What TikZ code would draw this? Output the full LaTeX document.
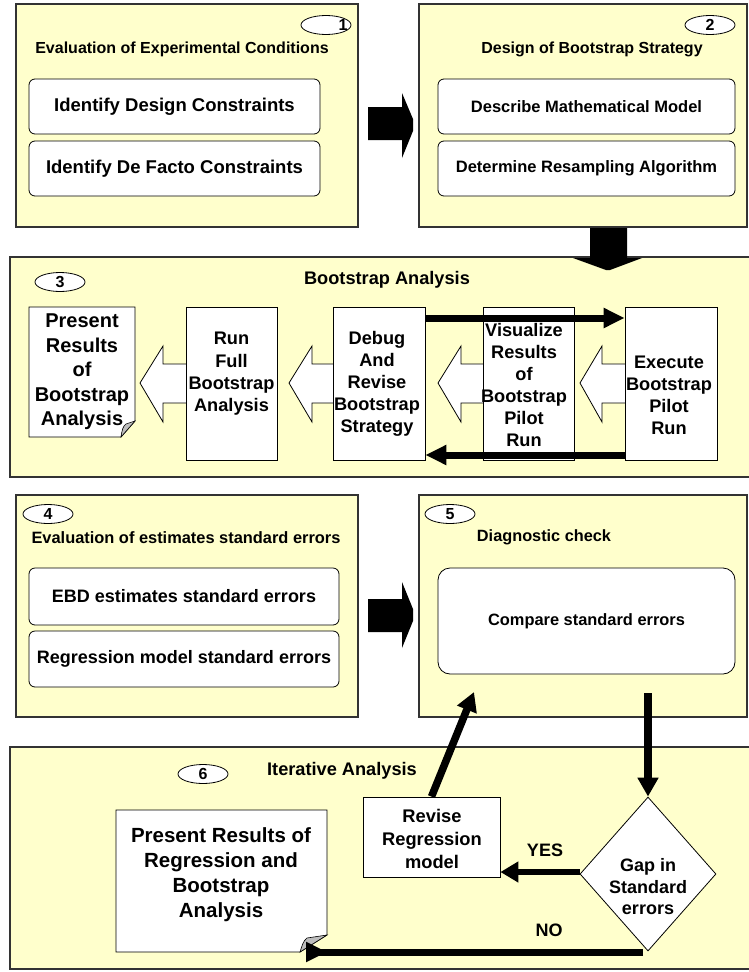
\documentclass[tikz,border=0pt]{standalone}
\usepackage{fontspec}
\setmainfont{Liberation Sans}
\usetikzlibrary{arrows.meta,shapes.geometric}
\definecolor{panelfill}{HTML}{FFFFCC}
\definecolor{foldgray}{HTML}{BDBDBD}
\newcommand\ft[2]{\fontsize{#1}{#2}\selectfont\bfseries}
\begin{document}
\begin{tikzpicture}[x=1pt,y=-1pt,
  panel/.style={draw=black!80,line width=1.2pt,fill=panelfill},
  rbox/.style={draw=black,line width=0.8pt,fill=white,rounded corners=6pt,inner sep=0pt,align=center},
  sbox/.style={draw=black,line width=0.8pt,fill=white,inner sep=0pt},
  num/.style={ellipse,draw=black,line width=0.8pt,fill=white,minimum width=50pt,minimum height=19pt,inner sep=0pt,font=\ft{16}{19}},
  lbl/.style={inner sep=0pt,align=center},
  wblock/.style={draw=black,line width=0.8pt,fill=white,line join=miter},
  bblock/.style={fill=black},
  blk/.style={line width=7pt,-{Triangle[length=21pt,width=19pt]}},
  thn/.style={line width=6pt,-{Triangle[length=18pt,width=20pt]}},
  doc/.style={draw=black,line width=0.8pt,fill=white,line join=miter},
  flap/.style={draw=black,line width=0.6pt,fill=foldgray}
]
\useasboundingbox (0,0) rectangle (749,972);
\fill[white] (0,0) rectangle (749,972);

% ---------- panels ----------
\draw[panel] (16,4) rectangle (358,227);
\draw[panel] (419,4) rectangle (747,227);
\draw[panel] (10,257) rectangle (770,477);
\draw[panel] (16,495) rectangle (358,717);
\draw[panel] (419,495) rectangle (747,717);
\draw[panel] (10,747) rectangle (770,969);

% ---------- big black block arrows ----------
\fill[bblock] (368,107) -- (402,107) -- (402,93) -- (413,119) -- (413,131) -- (402,158) -- (402,140) -- (368,140) -- cycle;
\fill[bblock] (590,228) -- (627,228) -- (627,258) -- (642,258) -- (610,270) -- (606,270) -- (573,258) -- (590,258) -- cycle;
\fill[bblock] (368,599) -- (402,599) -- (402,582) -- (413,609) -- (413,621) -- (402,648) -- (402,632) -- (368,632) -- cycle;

% ---------- panel 1 ----------
\node[num] (n1) at (326,25) {};
\node[lbl,font=\ft{16}{19}] (n1t) at (343,25) {1};
\node[lbl,font=\ft{16}{19}] (t1) at (182,49) {Evaluation of Experimental Conditions};
\node[rbox,minimum width=291pt,minimum height=55pt,font=\ft{18.5}{22}] (b11) at (174.5,106.5) {Identify Design Constraints};
\node[rbox,minimum width=291pt,minimum height=55pt,font=\ft{18.5}{22}] (b12) at (174.5,168.5) {Identify De Facto Constraints};

% ---------- panel 2 ----------
\node[num] (n2) at (710,25) {2};
\node[lbl,font=\ft{16}{19}] (t2) at (592,49) {Design of Bootstrap Strategy};
\node[rbox,minimum width=297pt,minimum height=55pt,font=\ft{16.5}{20}] (b21) at (586.5,106.5) {Describe Mathematical Model};
\node[rbox,minimum width=297pt,minimum height=55pt,font=\ft{16.5}{20}] (b22) at (586.5,168.5) {Determine Resampling Algorithm};

% ---------- panel 3 ----------
\node[num] (n3) at (60,282) {3};
\node[lbl,font=\ft{18.2}{22}] (t3) at (387,280) {Bootstrap Analysis};

% white block arrows (pointing left)
\draw[wblock] (140,383) -- (163,346) -- (163,364) -- (192,364) -- (192,403) -- (163,403) -- (163,422) -- cycle;
\draw[wblock] (289,383) -- (312,346) -- (312,364) -- (340,364) -- (340,403) -- (312,403) -- (312,422) -- cycle;
\draw[wblock] (438,383) -- (461,346) -- (461,364) -- (490,364) -- (490,403) -- (461,403) -- (461,422) -- cycle;
\draw[wblock] (580,383) -- (602,346) -- (602,364) -- (632,364) -- (632,403) -- (602,403) -- (602,422) -- cycle;

% document shape 1
\draw[doc] (29,307) -- (135,307) -- (135,421) -- (121,437) -- (29,437) -- cycle;
\draw[flap] (135,421) -- (121,437) .. controls (122,430) and (123,426) .. (126,424) -- cycle;
\node[lbl,font=\ft{20}{24.5}] (d1) at (82,372) {Present\\Results\\of\\Bootstrap\\Analysis};

\node[sbox,minimum width=91pt,minimum height=153pt] (run) at (231.5,383.5) {};
\node[lbl,font=\ft{18.2}{22.3}] (runt) at (231.5,374) {Run\\Full\\Bootstrap\\Analysis};
\node[sbox,minimum width=92pt,minimum height=153pt] (dbg) at (379,383.5) {};
\node[lbl,font=\ft{18.2}{22}] (dbgt) at (377,384) {Debug\\And\\Revise\\Bootstrap\\Strategy};
\node[sbox,minimum width=91pt,minimum height=153pt] (vis) at (528.5,383.5) {};
\node[lbl,font=\ft{18.2}{22}] (vist) at (524,385) {Visualize\\Results\\of\\Bootstrap\\Pilot\\Run};
\node[sbox,minimum width=92pt,minimum height=153pt] (exe) at (671,383.5) {};
\node[lbl,font=\ft{18.2}{22}] (exet) at (669,395.5) {Execute\\Bootstrap\\Pilot\\Run};

\coordinate (ya) at (0,318);
\coordinate (yb) at (0,455);
\draw[blk] (dbg.east |- ya) -- (exe.west |- ya);
\draw[blk] (exe.west |- yb) -- (dbg.east |- yb);

% ---------- panel 4 ----------
\node[num] (n4) at (48,514) {4};
\node[lbl,font=\ft{16.4}{19}] (t4) at (186,538) {Evaluation of estimates standard errors};
\node[rbox,minimum width=310pt,minimum height=57pt,font=\ft{18}{22}] (b41) at (184,596.5) {EBD estimates standard errors};
\node[rbox,minimum width=310pt,minimum height=56pt,font=\ft{18}{22}] (b42) at (184,659) {Regression model standard errors};

% ---------- panel 5 ----------
\node[num] (n5) at (450,514) {5};
\node[lbl,font=\ft{16.3}{19}] (t5) at (544,537) {Diagnostic check};
\node[rbox,rounded corners=12pt,minimum width=297pt,minimum height=106pt,font=\ft{16.4}{20}] (b51) at (586.5,621) {Compare standard errors};

% ---------- panel 6 ----------
\node[num] (n6) at (203,774) {6};
\node[lbl,font=\ft{18.2}{22}] (t6) at (342,771) {Iterative Analysis};

\draw[doc] (116,810) -- (327,810) -- (327,935) -- (300,952) -- (116,952) -- cycle;
\draw[flap] (327,935) -- (300,952) .. controls (302,946) and (303,941) .. (307,938) -- cycle;
\node[lbl,font=\ft{20.5}{25}] (d2) at (221,874.5) {Present Results of\\Regression and\\Bootstrap\\Analysis};

\node[sbox,minimum width=137pt,minimum height=80pt] (rev) at (431.5,837) {};
\node[lbl,font=\ft{18.3}{23}] (revt) at (432,839) {Revise\\Regression\\model};

\node[diamond,draw=black,line width=0.8pt,fill=white,minimum width=136pt,minimum height=154pt,inner sep=0pt] (gap) at (648,874) {};
\node[lbl,font=\ft{18}{21.5}] (gapt) at (648,887) {Gap in\\Standard\\errors};

\coordinate (dstart) at (648,693);
\coordinate (uptip) at (474,692);
\draw[line width=8pt,-{Triangle[length=19pt,width=20pt]}] (dstart) -- (gap.north);
\draw[line width=7.5pt,-{Triangle[length=19pt,width=20pt]}] (rev.north) -- (uptip);
\coordinate (yy) at (0,872);
\draw[thn] (gap.west |- yy) -- (rev.east |- yy);
\coordinate (nstart) at (643,952);
\draw[blk] (nstart) -- (d2.east |- nstart) -- (327,952);

\node[lbl,font=\ft{18}{21}] (yes) at (545,850) {YES};
\node[lbl,font=\ft{18}{21}] (no) at (549,930) {NO};
\end{tikzpicture}
\end{document}
